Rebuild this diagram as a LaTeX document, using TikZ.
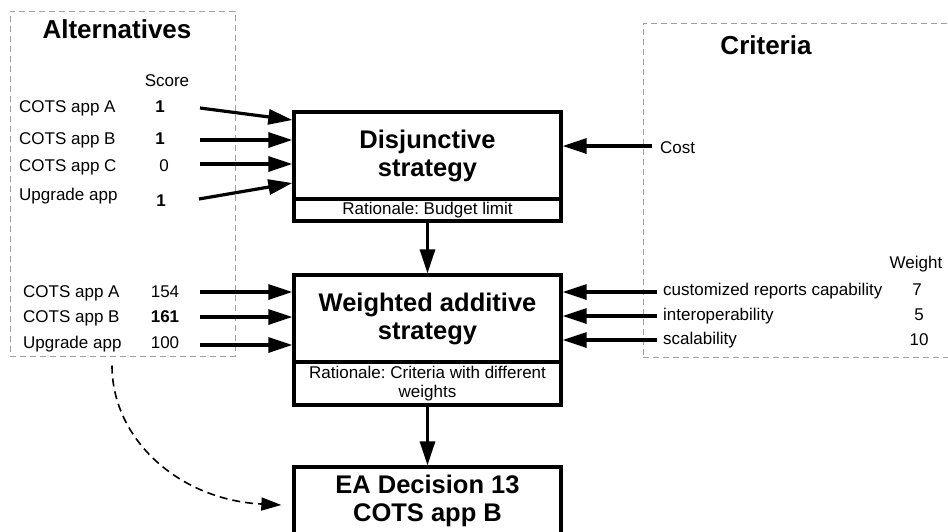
\documentclass[tikz,border=0pt]{standalone}
\usepackage{fontspec}
\setmainfont{Liberation Sans}
\usetikzlibrary{arrows.meta}
\definecolor{grpgray}{RGB}{160,160,160}
\frenchspacing
\begin{document}
\begin{tikzpicture}[x=1pt,y=-1pt,
  body/.style={font=\fontsize{17}{18.5}\selectfont, inner sep=0pt},
  ttl/.style={font=\fontsize{26}{28}\selectfont\bfseries, inner sep=0pt},
  box/.style={draw, line width=3.3pt, rectangle, minimum width=267pt, inner sep=0pt, align=center},
  bigbox/.style={box, font=\fontsize{25.5}{28}\selectfont\bfseries},
  ratbox/.style={box, font=\fontsize{17}{18.5}\selectfont},
  arr/.style={line width=3.2pt, -{Triangle[length=24pt,width=15pt]}},
  grp/.style={draw=grpgray, line width=1pt, dash pattern=on 6pt off 4pt, rectangle, inner sep=0pt},
  dasharr/.style={line width=1.6pt, dash pattern=on 8pt off 5pt, -{Triangle[length=20pt,width=13pt]}},
]
\useasboundingbox (0,0) rectangle (948,531);
\clip (0,0) rectangle (948,531);

% group frames
\node[grp, minimum width=225pt, minimum height=345pt] (altg) at (122.5,183.5) {};
\node[grp, minimum width=310pt, minimum height=334pt] (crig) at (798,190) {};
\node[ttl, anchor=base] (altt) at (117,38) {Alternatives};
\node[ttl, anchor=base] (crit) at (766,54) {Criteria};

% strategy boxes
\node[bigbox, minimum height=87pt] (dis) at (427.5,155.5) {Disjunctive\\strategy};
\node[ratbox, minimum height=22pt] (disr) at (427.5,210) {Rationale: Budget limit};
\node[bigbox, minimum height=87pt] (wa) at (427.5,318.5) {Weighted additive\\strategy};
\node[ratbox, minimum height=43pt] (war) at (427.5,383.5) {Rationale: Criteria with different\\weights};
\node[bigbox, minimum height=68pt] (dec) at (427.5,501) {EA Decision 13\\COTS app B};

% alternatives, first group
\node[body, anchor=base] (score) at (167,86) {Score};
\node[body, anchor=base west] (a1) at (19,112) {COTS app A};
\node[body, anchor=base west] (a2) at (19,144) {COTS app B};
\node[body, anchor=base west] (a3) at (19,171) {COTS app C};
\node[body, anchor=base west] (a4) at (19,200) {Upgrade app};
\node[body, anchor=base] (s1) at (160,112) {\bfseries 1};
\node[body, anchor=base] (s2) at (160,144) {\bfseries 1};
\node[body, anchor=base] (s3) at (164,171) {0};
\node[body, anchor=base] (s4) at (161,206) {\bfseries 1};

\coordinate (p1) at (200,108);
\coordinate (p2) at (200,140);
\coordinate (p3) at (200,164);
\coordinate (p4) at (199,199);
\draw[arr] (p1) -- ([yshift=35.5pt]dis.west);
\draw[arr] (p2) -- (p2 -| dis.west);
\draw[arr] (p3) -- (p3 -| dis.west);
\draw[arr] (p4) -- ([yshift=-27.5pt]dis.west);

% alternatives, second group
\node[body, anchor=base west] (b1) at (23,297) {COTS app A};
\node[body, anchor=base west] (b2) at (23,322) {COTS app B};
\node[body, anchor=base west] (b3) at (23,348) {Upgrade app};
\node[body, anchor=base] (t1) at (165,297) {154};
\node[body, anchor=base] (t2) at (165,322) {\bfseries 161};
\node[body, anchor=base] (t3) at (165,348) {100};

\coordinate (q1) at (200,292);
\coordinate (q2) at (200,317);
\coordinate (q3) at (200,345);
\draw[arr] (q1) -- (q1 -| wa.west);
\draw[arr] (q2) -- (q2 -| wa.west);
\draw[arr] (q3) -- (q3 -| wa.west);

% criteria
\node[body, anchor=base west] (cost) at (660,153) {Cost};
\coordinate (cs) at (652,146);
\draw[arr] (cs) -- (cs -| dis.east);

\node[body, anchor=base] (wgt) at (916,268) {Weight};
\node[body, anchor=base west] (c1) at (663,295) {customized reports capability};
\node[body, anchor=base west] (c2) at (663,320) {interoperability};
\node[body, anchor=base west] (c3) at (663,344) {scalability};
\node[body, anchor=base] (w1) at (917,295) {7};
\node[body, anchor=base] (w2) at (919,320) {5};
\node[body, anchor=base] (w3) at (919,345) {10};

\coordinate (r1) at (657,292);
\coordinate (r2) at (657,316);
\coordinate (r3) at (657,340);
\draw[arr] (r1) -- (r1 -| wa.east);
\draw[arr] (r2) -- (r2 -| wa.east);
\draw[arr] (r3) -- (r3 -| wa.east);

% flow
\draw[arr] (disr.south) -- (wa.north);
\draw[arr] (war.south) -- (dec.north);
\draw[dasharr] ([xshift=-10.5pt,yshift=-9pt]altg.south) .. controls (112,440) and (180,500) .. ([xshift=-11pt,yshift=-4pt]dec.west);
\end{tikzpicture}
\end{document}
